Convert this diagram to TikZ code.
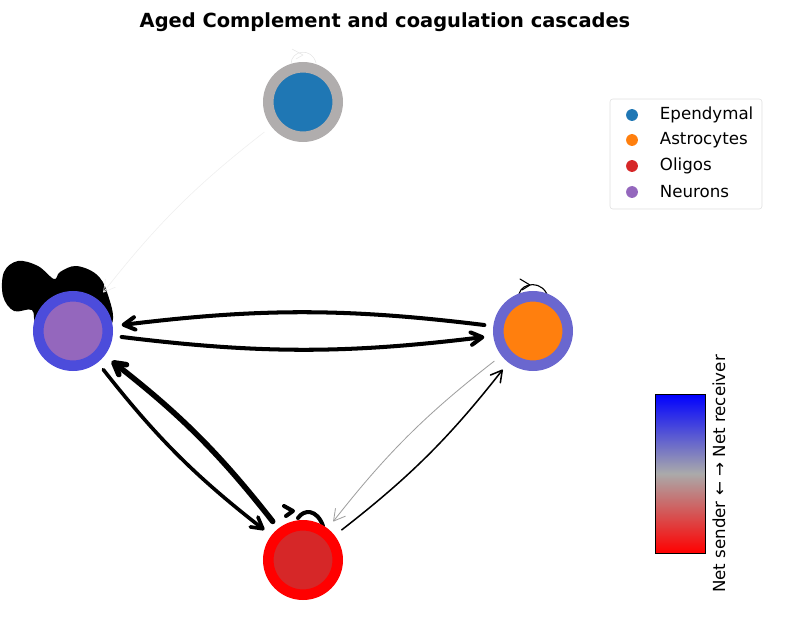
\documentclass[tikz,border=0pt]{standalone}
\usepackage{fontspec}
\setmainfont{DejaVu Sans}
\usetikzlibrary{arrows.meta}
\definecolor{ependymal}{HTML}{1F77B4}
\definecolor{astro}{HTML}{FF7F0E}
\definecolor{oligo}{HTML}{D62728}
\definecolor{neuron}{HTML}{9467BD}
\definecolor{epring}{RGB}{176,173,173}
\definecolor{neuring}{RGB}{76,76,219}
\definecolor{astroring}{RGB}{106,103,207}
\definecolor{oliring}{RGB}{255,0,0}
\definecolor{midgray}{RGB}{170,170,170}

\begin{document}
\begin{tikzpicture}[x=0.72pt, y=-0.72pt,
    cell/.style={circle, inner sep=0pt, minimum size=50pt, line width=7.6pt},
    edge/.style={line cap=round, bend right=7, shorten <=6.5pt, shorten >=6.5pt,
      -{Straight Barb[length=8pt, width=9pt, round]}},
    loopline/.style={line cap=round, line join=round},
    legdot/.style={circle, inner sep=0pt, minimum size=8.5pt},
    legtext/.style={anchor=west, font=\fontsize{12}{14}\selectfont}]
  \useasboundingbox (0,0) rectangle (794,636);
  \node[font=\bfseries\fontsize{14}{17}\selectfont] (title) at (385,22) {Aged Complement and coagulation cascades};
  % self-loops (behind the cells)
  \fill plot[smooth cycle, tension=0.6] coordinates {(38,326) (32,310) (14,311) (3,296) (4,272) (18,261) (38,266) (54,279)
      (60,272) (76,266) (96,274) (107,292) (111,325) (73,336)};
  \draw[loopline, line width=2.9pt] (298,518) .. controls (304,509) and (317,509) .. (323,526);
  \draw[loopline, line width=2.9pt] (284,506) -- (293,511) -- (286,516);
  \draw[loopline, line width=0.8pt] (519,294) .. controls (522,282) and (543,280) .. (548,297);
  \draw[loopline, line width=0.8pt] (520,279) -- (530,285) -- (522,290);
  \draw[loopline, line width=0.4pt, gray!20] (291,64) .. controls (291,50) and (312,47) .. (316,63);
  \draw[loopline, line width=0.4pt, gray!20] (292,49) -- (303,55) -- (296,59);
  % cells
  \node[cell, draw=epring, fill=ependymal] (epend) at (303,102) {};
  \node[cell, draw=neuring, fill=neuron] (neurons) at (73,331) {};
  \node[cell, draw=astroring, fill=astro] (astros) at (533,331) {};
  \node[cell, draw=oliring, fill=oligo] (oligos) at (303,560) {};
  % interactions
  \draw[edge, line width=2.9pt] (neurons) to (astros);
  \draw[edge, line width=2.9pt] (astros) to (neurons);
  \draw[edge, line width=2.6pt] (neurons) to (oligos);
  \draw[edge, line width=4pt] (oligos) to (neurons);
  \draw[edge, line width=1.1pt] (oligos) to (astros);
  \draw[edge, line width=0.6pt, gray!75] (astros) to (oligos);
  \draw[edge, line width=0.5pt, gray!12] (epend) to (neurons);
  % legend
  \draw[gray!25, fill=white, rounded corners=2pt] (610,99) rectangle (762,209);
  \foreach \y/\c/\t in {115/ependymal/Ependymal, 140/astro/Astrocytes, 166/oligo/Oligos, 192/neuron/Neurons} {
    \node[legdot, fill=\c] (dot-\t) at (632,\y) {};
    \node[legtext] (lab-\t) at (655,\y) {\t};
  }
  % colour bar
  \draw[top color=blue, bottom color=red, middle color=midgray, line width=0.6pt] (655,394) rectangle (705,553);
  \node[rotate=90, font=\fontsize{12}{14}\selectfont] (cbar) at (719,474) {Net sender ← → Net receiver};
\end{tikzpicture}
\end{document}
